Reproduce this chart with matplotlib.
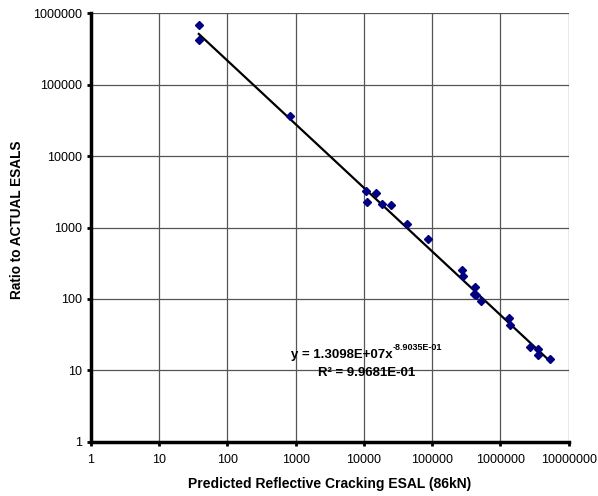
import numpy as np
import matplotlib
matplotlib.use("Agg")
import matplotlib.pyplot as plt
from matplotlib.ticker import FixedLocator, FuncFormatter, NullLocator

plt.rcParams['font.family'] = ['Liberation Sans', 'DejaVu Sans']

# Data
predicted_esal = [38, 38, 814, 10770, 11250, 15100, 18670, 24800, 42500, 88300,
                  278000, 288000, 420000, 413000, 437000, 523000, 1345000, 1390000,
                  2730000, 3620000, 3620000, 5250000]
ratio_actual = [685000, 423000, 37000, 3245, 2254, 3013, 2133, 2052, 1102, 690,
                254, 209, 145, 119, 113, 94, 54, 42.8, 21.4, 19.7, 16.4, 14.3]

# Power trendline reported on the chart
coef_a = 1.3098e7
coef_b = -8.9035e-01
eq_line1 = "y = 1.3098E+07x"
eq_sup = "-8.9035E-01"
eq_line2 = "R\u00b2 = 9.9681E-01"

x_ticks = [1, 10, 100, 1000, 10000, 100000, 1000000, 10000000]
y_ticks = [1, 10, 100, 1000, 10000, 100000, 1000000]

fig = plt.figure(figsize=(5.98, 4.96), dpi=100)
ax = fig.add_axes([91/598, 1-441.7/496, (568.6-91)/598, (441.7-13.3)/496])

ax.set_xscale('log')
ax.set_yscale('log')
ax.set_xlim(1, 1e7)
ax.set_ylim(1, 1e6)

ax.grid(True, which='major', color='#555555', lw=0.9)
ax.set_axisbelow(True)

xs = np.logspace(np.log10(min(predicted_esal)), np.log10(max(predicted_esal)), 200)
ax.plot(xs, coef_a * xs ** coef_b, color='black', lw=1.6, zorder=3)
ax.plot(predicted_esal, ratio_actual, linestyle='none', marker='D', markersize=4.4,
        color='#000080', zorder=4)

ax.xaxis.set_major_locator(FixedLocator(x_ticks))
ax.yaxis.set_major_locator(FixedLocator(y_ticks))
ax.xaxis.set_minor_locator(NullLocator())
ax.yaxis.set_minor_locator(NullLocator())
fmt = FuncFormatter(lambda v, p: f"{int(round(v))}")
ax.xaxis.set_major_formatter(fmt)
ax.yaxis.set_major_formatter(fmt)
ax.tick_params(axis='both', direction='out', length=3, width=2, labelsize=9, colors='black')
ax.tick_params(axis='x', pad=6)

for s in ['top', 'right']:
    ax.spines[s].set_visible(False)
for s in ['left', 'bottom']:
    ax.spines[s].set_linewidth(2.5)
    ax.spines[s].set_color('black')

ax.set_xlabel("Predicted Reflective Cracking ESAL (86kN)", fontsize=10, fontweight='bold', labelpad=8)
ax.set_ylabel("Ratio to ACTUAL ESALS", fontsize=9.8, fontweight='bold')
ax.yaxis.set_label_coords((24.5-91)/477.6, (441.7-220)/428.4)

fig.text(393/598, 1-355/496, eq_line1, ha='right', va='center', fontsize=9.5, fontweight='bold')
fig.text(393/598, 1-348/496, eq_sup, ha='left', va='center', fontsize=6.5, fontweight='bold')
fig.text(366.5/598, 1-373/496, eq_line2, ha='center', va='center', fontsize=9.5, fontweight='bold')

fig.savefig("out.png", dpi=100)
